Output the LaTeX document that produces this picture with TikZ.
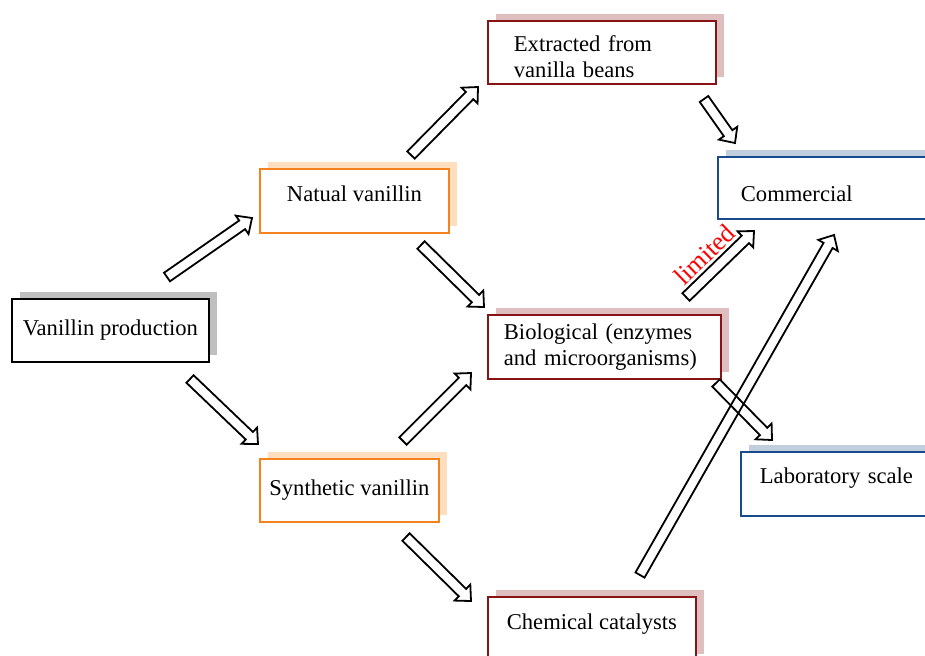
\documentclass[tikz,border=0pt]{standalone}
\usepackage{fontspec}
\setmainfont{Liberation Serif}
\usepackage{tikz}
\usetikzlibrary{calc, shadows}
\usepackage{xcolor}

\definecolor{orangeLine}{RGB}{245,130,30}
\definecolor{orangeShade}{RGB}{253,222,190}
\definecolor{redLine}{RGB}{135,20,20}
\definecolor{redShade}{RGB}{222,190,190}
\definecolor{blueLine}{RGB}{25,75,140}
\definecolor{blueShade}{RGB}{192,206,222}

% hollow block arrow from tail #1 to tip #2
\newcommand{\hollowarrow}[2]{%
  \coordinate (headBase) at ($(#2)!6pt!(#1)$);
  \draw[arrowLine] ($(#1)!2.6pt!90:(#2)$) -- ($(headBase)!2.6pt!90:(#2)$)
    -- ($(headBase)!5.6pt!90:(#2)$) -- (#2)
    -- ($(headBase)!5.6pt!-90:(#2)$) -- ($(headBase)!2.6pt!-90:(#2)$)
    -- ($(#1)!2.6pt!-90:(#2)$) -- cycle;
}

\begin{document}
\begin{tikzpicture}[
    x=0.5pt, y=-0.5pt,
    font=\fontsize{11.3}{13}\selectfont,
    box/.style={draw, line width=0.9pt, fill=white, anchor=north west, minimum height=31.5pt, inner sep=0pt},
    boxBlack/.style={box, draw=black, general shadow={shadow xshift=4pt, shadow yshift=3.5pt, fill=gray!50}},
    boxOrange/.style={box, draw=orangeLine, general shadow={shadow xshift=4pt, shadow yshift=3.5pt, fill=orangeShade}},
    boxRed/.style={box, draw=redLine, general shadow={shadow xshift=4pt, shadow yshift=3.5pt, fill=redShade}},
    boxBlue/.style={box, draw=blueLine, general shadow={shadow xshift=4pt, shadow yshift=3.5pt, fill=blueShade}},
    arrowLine/.style={draw=black, line width=0.9pt, line join=miter}
]

\useasboundingbox (0,0) rectangle (925,655);
\clip (0,0) rectangle (925,655);

% Boxes
\node[boxBlack, minimum width=98.5pt] (prod) at (11,298) {Vanillin production};

\node[boxOrange, minimum width=94.5pt, minimum height=32pt, text depth=7pt] (natual) at (259,168) {Natual vanillin};
\node[boxOrange, minimum width=89.5pt] (synth) at (259,458) {Synthetic vanillin};

\node[boxRed, text width=88pt, inner xsep=13pt, inner ysep=0pt, align=left] (extr) at (487,20) {\rule{0pt}{12pt}Extracted from\\vanilla beans};
\node[boxRed, text width=100.5pt, inner xsep=8pt, minimum height=32pt, align=left] (bio) at (487,314) {Biological (enzymes\\and microorganisms)};
\node[boxRed, minimum width=104pt, minimum height=32pt, text depth=7.5pt] (chem) at (487,596) {Chemical catalysts};

\node[boxBlue, text width=118.5pt, inner xsep=11.5pt, minimum height=31pt, text height=13.7pt, align=left] (comm) at (717,156) {Commercial};
\node[boxBlue, text width=111pt, inner xsep=9.5pt, minimum height=32pt, text depth=8.5pt, align=left] (lab) at (740,451) {Laboratory scale};

% Arrow ends
\coordinate (pnTail) at (167,277);  \coordinate (pnTip) at (252,218);
\coordinate (psTail) at (190,379);  \coordinate (psTip) at (258,444);
\coordinate (neTail) at (411,155);  \coordinate (neTip) at (478,87);
\coordinate (nbTail) at (421,245);  \coordinate (nbTip) at (484,307);
\coordinate (sbTail) at (403,441);  \coordinate (sbTip) at (471,373);
\coordinate (scTail) at (406,537);  \coordinate (scTip) at (471,601);
\coordinate (ecTail) at (704,99);   \coordinate (ecTip) at (735,143);
\coordinate (bcTail) at (686,297);  \coordinate (bcTip) at (754,231);
\coordinate (blTail) at (716,383);  \coordinate (blTip) at (772,440);
\coordinate (ccTail) at (640,575);  \coordinate (ccTip) at (834,235);

% Connections
\hollowarrow{pnTail}{pnTip}
\hollowarrow{psTail}{psTip}
\hollowarrow{neTail}{neTip}
\hollowarrow{nbTail}{nbTip}
\hollowarrow{sbTail}{sbTip}
\hollowarrow{scTail}{scTip}
\hollowarrow{ecTail}{ecTip}
\hollowarrow{bcTail}{bcTip}
\hollowarrow{blTail}{blTip}
\hollowarrow{ccTail}{ccTip}

\path (bcTail) -- (bcTip) node[pos=0.45, sloped, above=4pt, text=red, inner sep=0pt, font=\fontsize{13}{13}\selectfont] {limited};

\end{tikzpicture}
\end{document}
